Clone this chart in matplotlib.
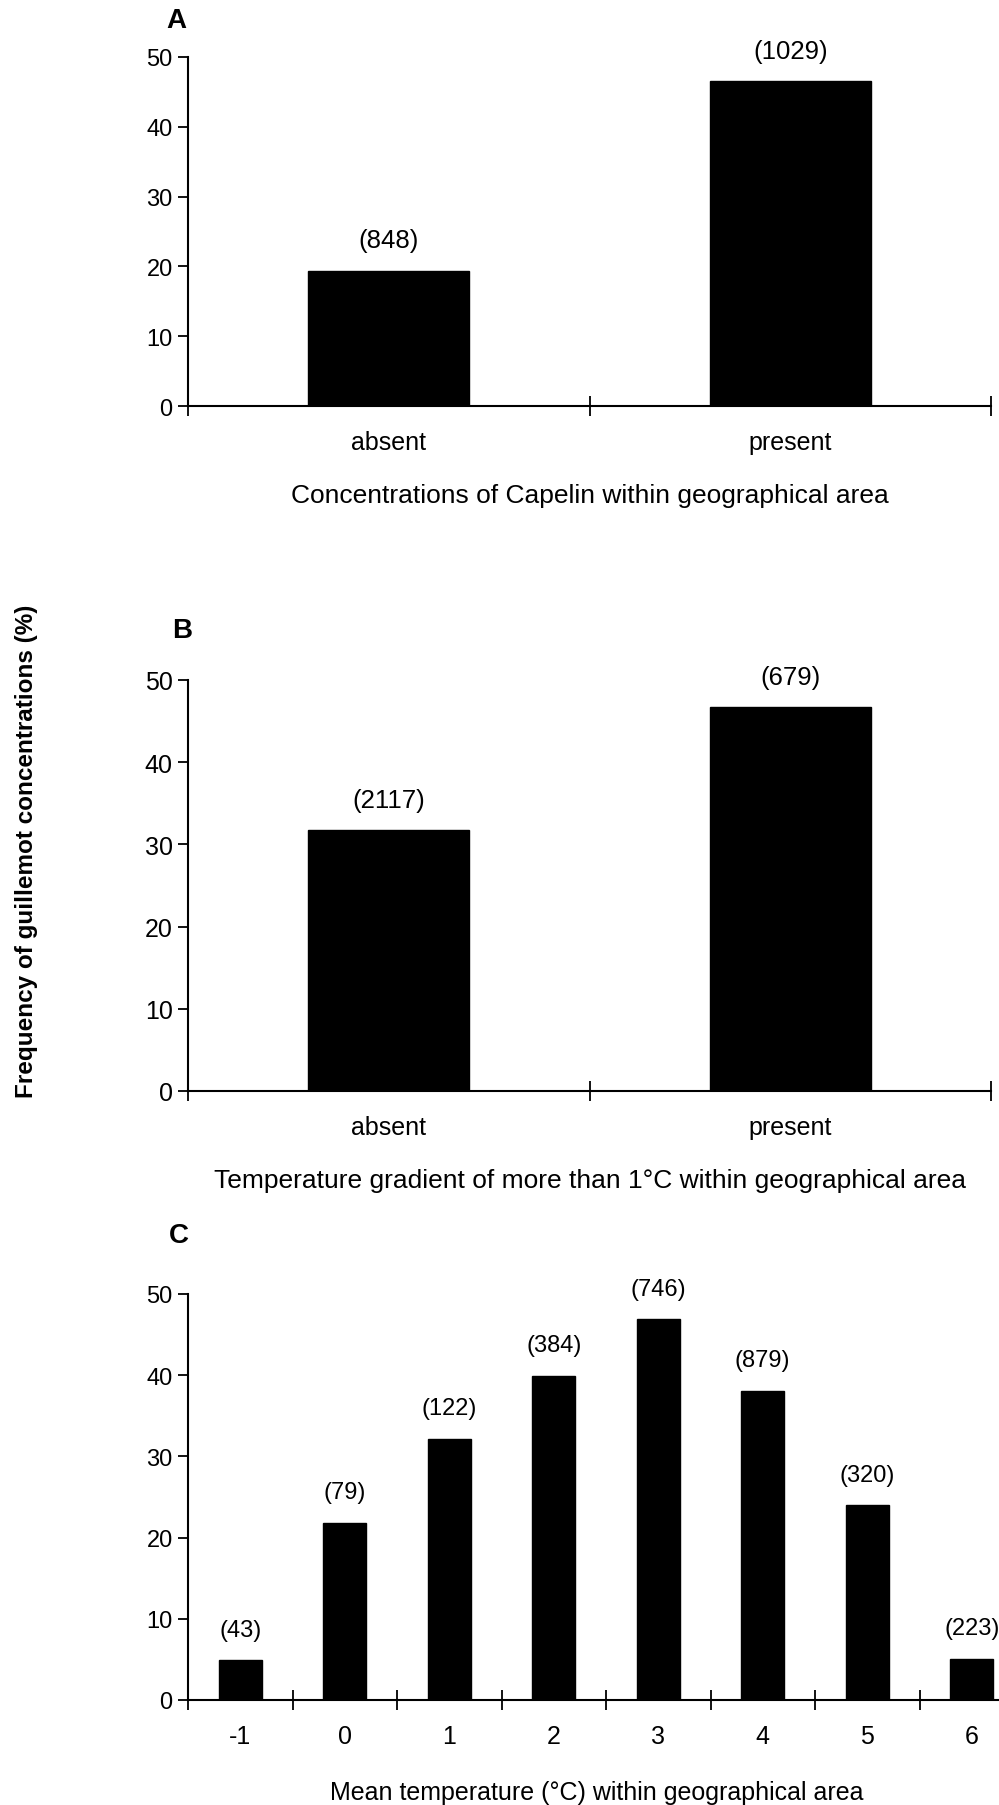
import matplotlib
matplotlib.use('Agg')
import matplotlib.pyplot as plt

plt.rcParams['font.family'] = ['Liberation Sans', 'DejaVu Sans']

# panel A: capelin
capelin_cats = ['absent', 'present']
capelin_freq = [19.4, 46.5]
capelin_n = ['(848)', '(1029)']

# panel B: temperature gradient
gradient_cats = ['absent', 'present']
gradient_freq = [31.7, 46.7]
gradient_n = ['(2117)', '(679)']

# panel C: mean temperature
temp_cats = ['-1', '0', '1', '2', '3', '4', '5', '6']
temp_freq = [4.9, 21.8, 32.2, 39.9, 46.9, 38.1, 24.0, 5.1]
temp_n = ['(43)', '(79)', '(122)', '(384)', '(746)', '(879)', '(320)', '(223)']

W, H = 999, 1806
fig = plt.figure(figsize=(W / 100, H / 100), dpi=100)


def px_axes(left, right, top, bottom):
    return fig.add_axes([left / W, 1 - bottom / H, (right - left) / W, (bottom - top) / H])


def draw_panel(ax, cats, freq, nlab, width, cat_size, val_size, tick_size):
    xs = [i + 0.5 for i in range(len(cats))]
    ax.bar(xs, freq, width=width, color='black', edgecolor='black')
    for x, v, t in zip(xs, freq, nlab):
        ax.annotate(t, (x, v), xytext=(0, 22), textcoords='offset points',
                    ha='center', va='center', fontsize=val_size)
    ax.set_xlim(0, len(cats))
    ax.set_ylim(0, 50)
    ax.set_yticks([0, 10, 20, 30, 40, 50])
    ax.set_xticks(range(len(cats) + 1))
    ax.set_xticklabels([])
    ax.set_xticks(xs, minor=True)
    ax.set_xticklabels(cats, minor=True, fontsize=cat_size)
    ax.tick_params(axis='x', which='major', direction='inout', length=14, width=1.3)
    ax.tick_params(axis='x', which='minor', length=0, pad=17)
    ax.tick_params(axis='y', direction='out', length=7, width=1.3, pad=4, labelsize=tick_size)
    for s in ['top', 'right']:
        ax.spines[s].set_visible(False)
    for s in ['left', 'bottom']:
        ax.spines[s].set_linewidth(1.5)
    ax.spines['left'].set_bounds(0, 50)


axA = px_axes(188, 991, 58, 407)
draw_panel(axA, capelin_cats, capelin_freq, capelin_n, 0.40, 18, 18.5, 17)
axA.set_xlabel('Concentrations of Capelin within geographical area', fontsize=19, labelpad=21)
fig.text(176 / W, 1 - 21 / H, 'A', fontsize=20, fontweight='bold', ha='center', va='center')

axB = px_axes(188, 991, 681, 1092)
draw_panel(axB, gradient_cats, gradient_freq, gradient_n, 0.40, 18, 18.5, 18)
axB.set_xlabel('Temperature gradient of more than 1°C within geographical area', fontsize=19, labelpad=21)
fig.text(182 / W, 1 - 631 / H, 'B', fontsize=20, fontweight='bold', ha='center', va='center')

axC = px_axes(188, 1024, 1295, 1701)
draw_panel(axC, temp_cats, temp_freq, temp_n, 0.41, 18, 17, 17)
axC.set_xlabel('Mean temperature (°C) within geographical area', fontsize=18, labelpad=23)
axC.xaxis.label.set_x(0.489)
fig.text(179 / W, 1 - 1236 / H, 'C', fontsize=20, fontweight='bold', ha='center', va='center')

fig.text(27 / W, 1 - 851 / H, 'Frequency of guillemot concentrations (%)', rotation=90,
         fontsize=17.5, fontweight='bold', ha='center', va='center')

fig.savefig('out.png', dpi=100)
